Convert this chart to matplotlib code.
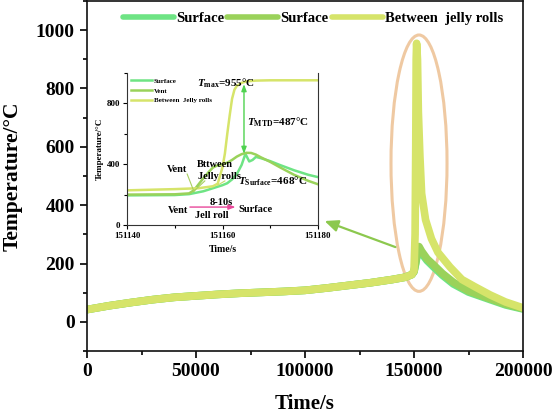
import matplotlib
matplotlib.use("Agg")
import matplotlib.pyplot as plt
from matplotlib.patches import Ellipse
from matplotlib.ticker import MultipleLocator, FormatStrFormatter

plt.rcParams['font.family'] = ['Liberation Serif', 'DejaVu Serif']
plt.rcParams['font.weight'] = 'bold'
plt.rcParams['mathtext.fontset'] = 'custom'
plt.rcParams['mathtext.rm'] = 'Liberation Serif:bold'
plt.rcParams['mathtext.it'] = 'Liberation Serif:italic:bold'
plt.rcParams['mathtext.bf'] = 'Liberation Serif:bold'

# ---------------- data (main chart) ----------------
t_surface = [0, 10000, 20000, 30000, 40000, 50000, 60000, 70000, 80000, 90000, 100000,
             110000, 120000, 130000, 140000, 146000, 149000, 150000, 150800, 151600,
             152300, 153500, 156000, 159000, 163000, 168000, 175000, 185000, 192000, 200000]
T_surface = [42, 55, 66, 76, 84, 89, 94, 98, 101, 104, 108,
             116, 125, 134, 145, 153, 162, 172, 200, 235,
             250, 235, 210, 188, 160, 130, 102, 76, 58, 44]

t_vent = [0, 10000, 20000, 30000, 40000, 50000, 60000, 70000, 80000, 90000, 100000,
          110000, 120000, 130000, 140000, 146000, 149000, 150000, 150800, 151600,
          152300, 153500, 156000, 159000, 163000, 168000, 175000, 185000, 192000, 200000]
T_vent = [42, 55, 66, 76, 84, 89, 94, 98, 101, 104, 108,
          116, 125, 134, 145, 153, 162, 172, 205, 245,
          258, 242, 216, 195, 166, 136, 106, 79, 61, 46]

t_between = [0, 10000, 20000, 30000, 40000, 50000, 60000, 70000, 80000, 90000, 100000,
             110000, 120000, 130000, 140000, 146000, 149000, 150000, 150500, 150800,
             151000, 151200, 151600, 152000, 152700, 153500, 155300, 158000, 161000,
             166500, 172000, 178000, 185000, 192000, 200000]
T_between = [42, 55, 66, 76, 84, 89, 94, 98, 101, 104, 108,
             116, 125, 134, 145, 153, 162, 175, 300, 600,
             900, 955, 900, 720, 570, 440, 350, 285, 238,
             188, 145, 120, 92, 68, 48]

main_labels = ['Surface', 'Surface', 'Between  jelly rolls']

# ---------------- data (inset) ----------------
ti_surface = [151140, 151150, 151153, 151156, 151158, 151160, 151161, 151162, 151163,
              151164, 151164.8, 151165.6, 151166.3, 151167, 151168, 151170, 151172,
              151175, 151178, 151180]
Ti_surface = [195, 197, 203, 222, 242, 262, 275, 300, 335,
              395, 468, 418, 428, 448, 440, 420, 395,
              360, 330, 315]

ti_vent = [151140, 151150, 151153, 151154, 151155, 151156, 151157, 151158, 151159,
           151160, 151161, 151162, 151163, 151164, 151165, 151166, 151167, 151168,
           151170, 151172, 151175, 151178, 151180]
Ti_vent = [200, 202, 208, 228, 268, 308, 345, 378, 393,
           400, 410, 428, 450, 466, 475, 474, 463, 446,
           415, 380, 330, 290, 268]

ti_between = [151140, 151150, 151155, 151158, 151159, 151160, 151160.5, 151161,
              151161.5, 151162, 151162.5, 151163, 151164, 151165, 151167, 151170, 151180]
Ti_between = [228, 236, 242, 255, 272, 380, 470, 600,
              720, 830, 890, 915, 935, 945, 950, 952, 952]

inset_labels = ['Surface', 'Vent', 'Between  Jelly rolls']

c_surface = '#6ee484'
c_vent = '#9ad25a'
c_between = '#d6e46a'

# ---------------- figure ----------------
fig = plt.figure(figsize=(5.52, 4.13), dpi=100)
ax = fig.add_axes([87/552, 1-351/413, (523-87)/552, 350/413])

l1, = ax.plot(t_surface, T_surface, color=c_surface, lw=5.5, solid_capstyle='round')
l2, = ax.plot(t_vent, T_vent, color=c_vent, lw=5.5, solid_capstyle='round')
l3, = ax.plot(t_between, T_between, color=c_between, lw=5.5, solid_capstyle='round')

ax.set_xlim(0, 200000)
ax.set_ylim(-100, 1100)
ax.xaxis.set_major_locator(MultipleLocator(50000))
ax.xaxis.set_minor_locator(MultipleLocator(25000))
ax.yaxis.set_major_locator(MultipleLocator(200))
ax.yaxis.set_minor_locator(MultipleLocator(100))
ax.tick_params(which='both', direction='out', width=1.2, labelsize=14, pad=4)
ax.tick_params(which='major', length=5)
ax.tick_params(which='minor', length=3)
for s in ax.spines.values():
    s.set_linewidth(1.2)
    s.set_color('#111111')
ax.set_xlabel('Time/s', fontsize=15, fontweight='bold', labelpad=10)
ax.set_ylabel('Temperature/°C', fontsize=15.5, fontweight='bold', labelpad=9)
for lab in ax.get_xticklabels() + ax.get_yticklabels():
    lab.set_fontweight('bold')

ell = Ellipse((152300, 544), 25700, 879, fill=False, edgecolor='#efc9a2', lw=2.2)
ax.add_patch(ell)

ax.annotate('', xy=(107800, 349), xytext=(142660, 253),
            arrowprops=dict(arrowstyle='-|>,head_length=0.8,head_width=0.35',
                            color='#8cc84e', lw=1.6))

leg = ax.legend([l1, l2, l3], main_labels, loc='center left',
                bbox_to_anchor=(123/552, 1-18/413), bbox_transform=fig.transFigure,
                ncol=3, frameon=False, fontsize=10.5, handlelength=3.5,
                handletextpad=0.15, columnspacing=0.2, borderpad=0, borderaxespad=0)
for h in leg.get_lines():
    h.set_linewidth(4)
for t in leg.get_texts():
    t.set_fontweight('bold')

# ---------------- inset ----------------
ax2 = fig.add_axes([127/552, 1-225/413, 191/552, 152/413])
m1, = ax2.plot(ti_surface, Ti_surface, color=c_surface, lw=1.8)
m2, = ax2.plot(ti_vent, Ti_vent, color=c_vent, lw=1.8)
m3, = ax2.plot(ti_between, Ti_between, color=c_between, lw=1.8)
ax2.set_xlim(151140, 151180)
ax2.set_ylim(0, 1000)
ax2.xaxis.set_major_locator(MultipleLocator(20))
ax2.xaxis.set_minor_locator(MultipleLocator(10))
ax2.xaxis.set_major_formatter(FormatStrFormatter('%d'))
ax2.yaxis.set_major_locator(MultipleLocator(400))
ax2.yaxis.set_minor_locator(MultipleLocator(200))
ax2.tick_params(which='both', direction='out', width=0.8, labelsize=6.5, pad=2)
ax2.tick_params(which='major', length=3)
ax2.tick_params(which='minor', length=2)
ax2.spines['top'].set_visible(False)
for s in ['left', 'bottom', 'right']:
    ax2.spines[s].set_linewidth(0.8)
    ax2.spines[s].set_color('#333333')
ax2.set_xlabel('Time/s', fontsize=7, fontweight='bold', labelpad=4)
ax2.set_ylabel('Temperature/°C', fontsize=6.5, fontweight='bold', labelpad=2)
for lab in ax2.get_xticklabels() + ax2.get_yticklabels():
    lab.set_fontweight('bold')

leg2 = ax2.legend([m1, m2, m3], inset_labels, loc='upper left',
                  bbox_to_anchor=(131/552, 1-78/413), bbox_transform=fig.transFigure,
                  frameon=False, fontsize=5, handlelength=3.0, handletextpad=0.3,
                  labelspacing=0.55, borderpad=0, borderaxespad=0)
for t in leg2.get_texts():
    t.set_fontweight('bold')

# annotations in inset
ax2.text(151154.7, 931, r'$T_{\rm max}$=955°C', fontsize=8, va='center', ha='left')
ax2.text(151165.2, 675, r'$T_{\rm MTD}$=487°C', fontsize=8, va='center', ha='left')
ax2.text(151163.2, 288, r'$T_{\rm Surface}$=468°C', fontsize=8, va='center', ha='left')
ax2.annotate('', xy=(151164.5, 945), xytext=(151164.5, 450),
             arrowprops=dict(arrowstyle='<|-|>,head_length=0.4,head_width=0.15',
                             color='#4fd24f', lw=1.0))

ax2.text(151150.5, 365, 'Vent', fontsize=7.5, ha='center', va='center')
ax2.text(151158.5, 400, 'Bttween', fontsize=7.5, ha='center', va='center')
ax2.text(151159.3, 318, 'Jelly rolls', fontsize=7.5, ha='center', va='center')
ax2.plot([151152.6, 151154.0], [335, 222], color='#a8cf5e', lw=0.8)
ax2.plot([151156.3, 151154.0], [290, 222], color='#a8cf5e', lw=0.8)
ax2.plot([151160.5, 151159.0], [290, 262], color='#c8dc6a', lw=0.8)

ax2.annotate('', xy=(151163.3, 118), xytext=(151152.6, 118),
             arrowprops=dict(arrowstyle='-|>,head_length=0.4,head_width=0.15',
                             color='#e8479a', lw=1.0))
ax2.text(151150.6, 98, 'Vent', fontsize=7.5, ha='center', va='center')
ax2.text(151159.7, 150, '8-10s', fontsize=7.5, ha='center', va='center')
ax2.text(151157.8, 60, 'Jell roll', fontsize=7.5, ha='center', va='center')
ax2.text(151163.4, 104, 'Surface', fontsize=7.5, ha='left', va='center')

fig.savefig('out.png', dpi=100)
